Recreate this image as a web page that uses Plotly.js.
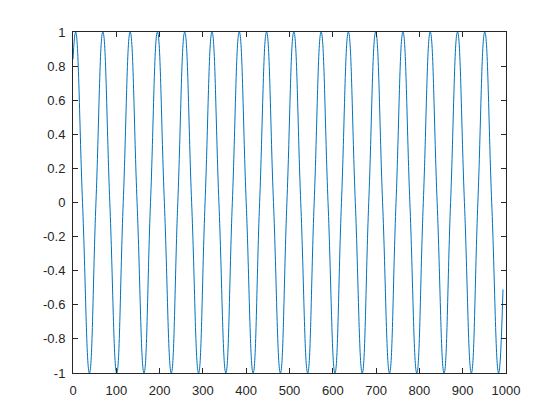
<!DOCTYPE html>
<html>
<head>
<meta charset="utf-8">
<script src="https://cdn.plot.ly/plotly-3.0.1.min.js"></script>
<style>html,body{margin:0;padding:0;background:#fff}#chart{width:560px;height:420px}</style>
</head>
<body>
<div id="chart"></div>
<script>
// Key points: start, peaks, zero crossings, troughs, end
const xValues = [0, 6, 22, 38, 53, 69, 85, 101, 116, 132, 148, 164, 179, 195, 211, 227, 242, 258, 274, 290, 305, 321, 337, 353, 368, 384, 400, 416, 431, 447, 463, 479, 494, 510, 526, 542, 557, 573, 589, 605, 620, 636, 652, 668, 683, 699, 715, 731, 746, 762, 778, 794, 809, 825, 841, 857, 872, 888, 904, 920, 935, 951, 967, 983, 993];
const yValues = [0.84, 1, 0, -1, 0, 1, 0, -1, 0, 1, 0, -1, 0, 1, 0, -1, 0, 1, 0, -1, 0, 1, 0, -1, 0, 1, 0, -1, 0, 1, 0, -1, 0, 1, 0, -1, 0, 1, 0, -1, 0, 1, 0, -1, 0, 1, 0, -1, 0, 1, 0, -1, 0, 1, 0, -1, 0, 1, 0, -1, 0, 1, 0, -1, -0.51];
const xTickVals = [0, 100, 200, 300, 400, 500, 600, 700, 800, 900, 1000];
const xTickText = ['0', '100', '200', '300', '400', '500', '600', '700', '800', '900', '1000'];
const yTickVals = [-1, -0.8, -0.6, -0.4, -0.2, 0, 0.2, 0.4, 0.6, 0.8, 1];
const yTickText = ['-1', '-0.8', '-0.6', '-0.4', '-0.2', '0', '0.2', '0.4', '0.6', '0.8', '1'];

const axisCommon = {
  showgrid: false, zeroline: false, showline: true, mirror: 'ticks',
  linecolor: '#262626', linewidth: 1, ticks: 'inside', ticklen: 5, tickwidth: 1,
  tickcolor: '#262626', tickmode: 'array',
  tickfont: {family: 'Liberation Sans, Arial, sans-serif', size: 13, color: '#262626'}
};

Plotly.newPlot('chart', [{
  x: xValues, y: yValues, type: 'scatter', mode: 'lines',
  line: {color: '#0072BD', width: 1, shape: 'spline', smoothing: 1.3},
  hoverinfo: 'skip'
}], {
  width: 560, height: 420,
  margin: {l: 73, r: 54, t: 32, b: 47, pad: 0},
  paper_bgcolor: '#ffffff', plot_bgcolor: '#ffffff',
  showlegend: false,
  xaxis: Object.assign({}, axisCommon, {range: [0, 1000], tickvals: xTickVals, ticktext: xTickText, ticklabelstandoff: 5}),
  yaxis: Object.assign({}, axisCommon, {range: [-1, 1], tickvals: yTickVals, ticktext: yTickText, ticklabelstandoff: 4})
}, {staticPlot: true});
</script>
</body>
</html>
